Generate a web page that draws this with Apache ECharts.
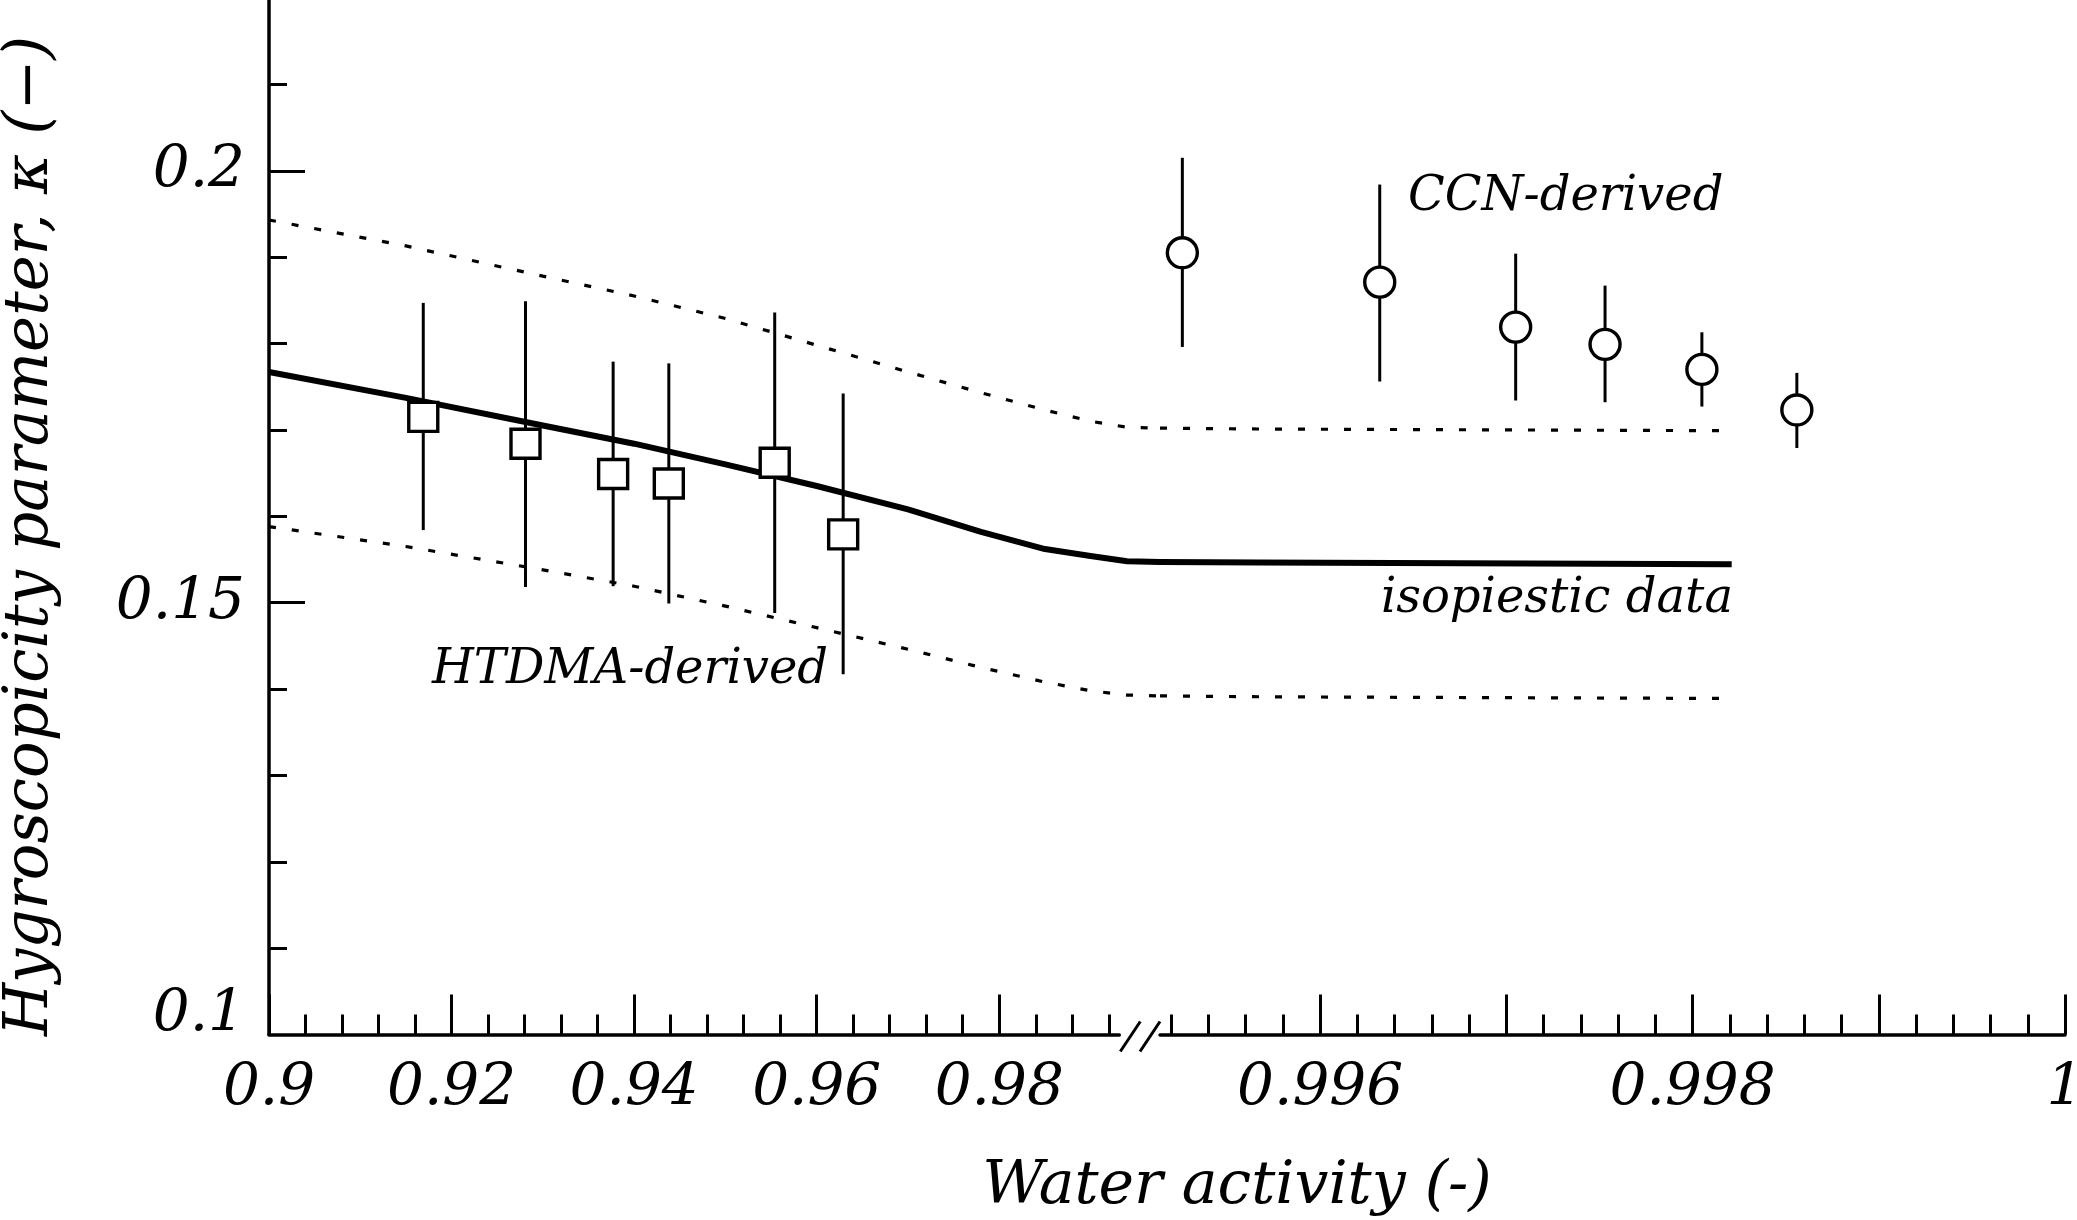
<!DOCTYPE html>
<html>
<head>
<meta charset="utf-8">
<script src="https://cdn.jsdelivr.net/npm/echarts@6/dist/echarts.min.js"></script>
<style>
  html, body { margin: 0; padding: 0; background: #ffffff; }
  #chart { width: 2077px; height: 1220px; }
</style>
</head>
<body>
<div id="chart"></div>
<script>
// ---- HTDMA-derived kappa (left panel, water activity 0.90 - 0.99) ----
const htdmaAw    = [0.9169, 0.9281, 0.9377, 0.9438, 0.9554, 0.9629];
const htdmaKappa = [0.1715, 0.1684, 0.1649, 0.1638, 0.1662, 0.1579];
const htdmaLow   = [0.1584, 0.1518, 0.1519, 0.1499, 0.1488, 0.1417];
const htdmaHigh  = [0.1847, 0.1849, 0.1779, 0.1777, 0.1836, 0.1742];

// ---- CCN-derived kappa (right panel, water activity near 1) ----
const ccnAw    = [0.99526, 0.99632, 0.99705, 0.99753, 0.99805, 0.99856];
const ccnKappa = [0.1905, 0.1871, 0.1819, 0.1799, 0.1770, 0.1723];
const ccnLow   = [0.1796, 0.1756, 0.1734, 0.1732, 0.1727, 0.1679];
const ccnHigh  = [0.2015, 0.1984, 0.1904, 0.1867, 0.1813, 0.1766];

// ---- isopiestic curve and its dotted envelope, left panel (runs on into the break) ----
const curveAwLeft    = [0.900, 0.915, 0.930, 0.940, 0.950, 0.960, 0.970, 0.978, 0.985, 0.990, 0.994, 0.99762];
const isoKappaLeft   = [0.1767, 0.1737, 0.1705, 0.1684, 0.1660, 0.1635, 0.1608, 0.1582, 0.1562, 0.1554, 0.1548, 0.1547];
const upperKappaLeft = [0.1943, 0.1913, 0.1878, 0.1855, 0.1829, 0.1798, 0.1767, 0.1743, 0.1723, 0.1710, 0.1703, 0.1702];
const lowerKappaLeft = [0.1588, 0.1565, 0.1538, 0.1519, 0.1496, 0.1471, 0.1446, 0.1425, 0.1408, 0.1398, 0.1393, 0.1392];

// ---- isopiestic curve and envelope, right panel ----
const curveAwRight    = [0.99514, 0.99567, 0.99821];
const isoKappaRight   = [0.1547, 0.15464, 0.15445];
const upperKappaRight = [0.1702, 0.1701, 0.1699];
const lowerKappaRight = [0.1392, 0.1391, 0.1389];

// ---- axes ----
const leftAwRange  = [0.9, 0.99315];
const rightAwRange = [0.99514, 1.0];
const kappaRange   = [0.1, 0.22];

const leftLabelTicks  = [0.90, 0.92, 0.94, 0.96, 0.98];
const rightMajorTicks = [0.996, 0.997, 0.998, 0.999, 1.0];
const rightLabelTicks = [0.996, 0.998, 1.0];
const yMajorTicks     = [0.15, 0.2];
const yLabelTicks     = [0.1, 0.15, 0.2];

function stepTicks(start, step, count, skipEvery) {
  const out = [];
  for (let i = 1; i <= count; i++) {
    if (i % skipEvery !== 0) out.push(+(start + i * step).toFixed(5));
  }
  return out;
}
const leftMinorTicks  = stepTicks(0.9, 0.004, 23, 5);     // 0.904 ... 0.992
const rightMinorTicks = stepTicks(0.995, 0.0002, 24, 5);  // 0.9952 ... 0.9998
const yMinorTicks     = stepTicks(0.1, 0.01, 12, 5);      // 0.11 ... 0.22

// ---- panel layout (pixels) ----
const PLOT_LEFT   = 269;     // y axis
const LEFT_END    = 1119.3;  // end of the left x axis line
const RIGHT_START = 1160;    // start of the right x axis line
const PLOT_RIGHT  = 2065;    // x = 1
const PLOT_TOP = -2, PLOT_BOTTOM = 185.5;

// The left panel's scale continued across the break gap, so the curves
// can run on until the right panel begins.
const leftDataMax = leftAwRange[0] +
  (leftAwRange[1] - leftAwRange[0]) * (RIGHT_START - PLOT_LEFT) / (LEFT_END - PLOT_LEFT);

const FONT = 'DejaVu Serif';
const INK = '#000000';
const zip = (xs, ys) => xs.map((x, i) => [x, ys[i]]);
const fmt = v => String(+(+v).toFixed(4));

const tickLabel = { fontFamily: FONT, fontStyle: 'italic', fontSize: 58, color: INK };

function minorX(gridIndex, range, ticks) {
  return {
    type: 'value', gridIndex, min: range[0], max: range[1], position: 'bottom',
    axisLine: { show: true, onZero: false, lineStyle: { color: INK, width: 3.5 } },
    axisTick: { show: true, inside: true, length: 20, customValues: ticks,
                lineStyle: { color: INK, width: 3 } },
    axisLabel: { show: false },
    splitLine: { show: false }
  };
}
function majorX(gridIndex, range, ticks, labels) {
  return {
    type: 'value', gridIndex, min: range[0], max: range[1], position: 'bottom',
    axisLine: { show: false, onZero: false },
    axisTick: { show: true, inside: true, length: 40, customValues: ticks,
                lineStyle: { color: INK, width: 3 } },
    axisLabel: Object.assign({ show: true, margin: 25, customValues: labels, formatter: fmt }, tickLabel),
    splitLine: { show: false }
  };
}
const hiddenAxis = (gridIndex, min, max) => ({
  type: 'value', gridIndex, min, max, show: false, splitLine: { show: false }
});

const lineBase = { type: 'line', showSymbol: false, symbol: 'none', clip: false,
                   smooth: false, animation: false, silent: true, z: 2 };
function curve(xIdx, yIdx, data, dashed) {
  return Object.assign({}, lineBase, {
    xAxisIndex: xIdx, yAxisIndex: yIdx, data,
    lineStyle: dashed
      ? { color: INK, width: 3.2, type: [7, 16], cap: 'butt' }
      : { color: INK, width: 6, cap: 'butt', join: 'round' }
  });
}
function errorBars(xIdx, yIdx, xs, lo, hi) {
  return {
    type: 'custom', xAxisIndex: xIdx, yAxisIndex: yIdx, silent: true, animation: false, z: 3,
    data: xs.map((x, i) => [x, lo[i], hi[i]]),
    renderItem: (params, api) => {
      const a = api.coord([api.value(0), api.value(1)]);
      const b = api.coord([api.value(0), api.value(2)]);
      return { type: 'line', shape: { x1: a[0], y1: a[1], x2: b[0], y2: b[1] },
               style: { stroke: INK, lineWidth: 3 } };
    }
  };
}
function markers(xIdx, yIdx, data, symbol, size) {
  return {
    type: 'scatter', xAxisIndex: xIdx, yAxisIndex: yIdx, data, symbol, symbolSize: size,
    silent: true, animation: false, z: 4,
    itemStyle: { color: '#ffffff', borderColor: INK, borderWidth: 3.4, opacity: 1 }
  };
}

const annotation = (text, x, y, align) => ({
  type: 'text', x, y, silent: true, z: 10,
  style: { text, fill: INK, fontFamily: FONT, fontStyle: 'italic', fontSize: 48,
           align, textAlign: align, verticalAlign: 'middle', textVerticalAlign: 'middle' }
});

const chart = echarts.init(document.getElementById('chart'));

const gridBox = (left, rightEdge) => ({
  left, right: 2077 - rightEdge, top: PLOT_TOP, bottom: PLOT_BOTTOM,
  outerBoundsMode: 'none', containLabel: false
});

const option = {
  backgroundColor: '#ffffff',
  animation: false,
  grid: [
    gridBox(PLOT_LEFT, LEFT_END),      // 0: left panel axes
    gridBox(RIGHT_START, PLOT_RIGHT),  // 1: right panel
    gridBox(PLOT_LEFT, RIGHT_START)    // 2: left panel data (through the gap)
  ],
  xAxis: [
    minorX(0, leftAwRange, leftMinorTicks),
    majorX(0, leftAwRange, leftLabelTicks, leftLabelTicks),
    minorX(1, rightAwRange, rightMinorTicks),
    majorX(1, rightAwRange, rightMajorTicks, rightLabelTicks),
    hiddenAxis(2, leftAwRange[0], leftDataMax)
  ],
  yAxis: [
    { type: 'value', gridIndex: 0, min: kappaRange[0], max: kappaRange[1], position: 'left',
      axisLine: { show: true, onZero: false, lineStyle: { color: INK, width: 3.5 } },
      axisTick: { show: true, inside: true, length: 18, customValues: yMinorTicks,
                  lineStyle: { color: INK, width: 3 } },
      axisLabel: { show: false }, splitLine: { show: false } },
    { type: 'value', gridIndex: 0, min: kappaRange[0], max: kappaRange[1], position: 'left',
      axisLine: { show: false, onZero: false },
      axisTick: { show: true, inside: true, length: 36, customValues: yMajorTicks,
                  lineStyle: { color: INK, width: 3 } },
      axisLabel: Object.assign({ show: true, margin: 24, customValues: yLabelTicks, lineHeight: 39,
                                 formatter: fmt, verticalAlignMinLabel: 'bottom' }, tickLabel),
      splitLine: { show: false } },
    hiddenAxis(1, kappaRange[0], kappaRange[1]),
    hiddenAxis(2, kappaRange[0], kappaRange[1])
  ],
  series: [
    curve(4, 3, zip(curveAwLeft, upperKappaLeft), true),
    curve(4, 3, zip(curveAwLeft, lowerKappaLeft), true),
    curve(4, 3, zip(curveAwLeft, isoKappaLeft), false),
    curve(3, 2, zip(curveAwRight, upperKappaRight), true),
    curve(3, 2, zip(curveAwRight, lowerKappaRight), true),
    curve(3, 2, zip(curveAwRight, isoKappaRight), false),
    errorBars(4, 3, htdmaAw, htdmaLow, htdmaHigh),
    errorBars(3, 2, ccnAw, ccnLow, ccnHigh),
    markers(4, 3, zip(htdmaAw, htdmaKappa), 'rect', 29),
    markers(3, 2, zip(ccnAw, ccnKappa), 'circle', 30)
  ],
  graphic: [
    annotation('CCN-derived', 1408, 198, 'left'),
    annotation('isopiestic data', 1733, 600, 'right'),
    annotation('HTDMA-derived', 432, 671, 'left'),
    { type: 'text', x: 1237, y: 1187, silent: true,
      style: { text: 'Water activity (-)', fill: INK, fontFamily: FONT, fontStyle: 'italic',
               fontSize: 60, align: 'center', textAlign: 'center',
               verticalAlign: 'middle', textVerticalAlign: 'middle' } },
    { type: 'text', x: 31, y: 536, rotation: Math.PI / 2, silent: true,
      style: { text: 'Hygroscopicity parameter, \u03ba (\u2212)', fill: INK, fontFamily: FONT,
               fontStyle: 'italic', fontSize: 61, align: 'center', textAlign: 'center',
               verticalAlign: 'middle', textVerticalAlign: 'middle' } }
  ]
};
chart.setOption(option);

// Axis-break marks "//" in the gap between the two panels.
const leftEnd    = chart.convertToPixel({ xAxisIndex: 0 }, leftAwRange[1]);
const rightStart = chart.convertToPixel({ xAxisIndex: 2 }, rightAwRange[0]);
const axisY      = chart.convertToPixel({ yAxisIndex: 0 }, kappaRange[0]);
const slash = (x0) => ({
  type: 'line', silent: true, z: 10,
  shape: { x1: x0, y1: axisY + 17, x2: x0 + 20, y2: axisY - 13 },
  style: { stroke: INK, lineWidth: 3 }
});
chart.setOption({
  graphic: option.graphic.concat([slash(leftEnd + 1), slash(rightStart - 20)])
});
</script>
</body>
</html>
